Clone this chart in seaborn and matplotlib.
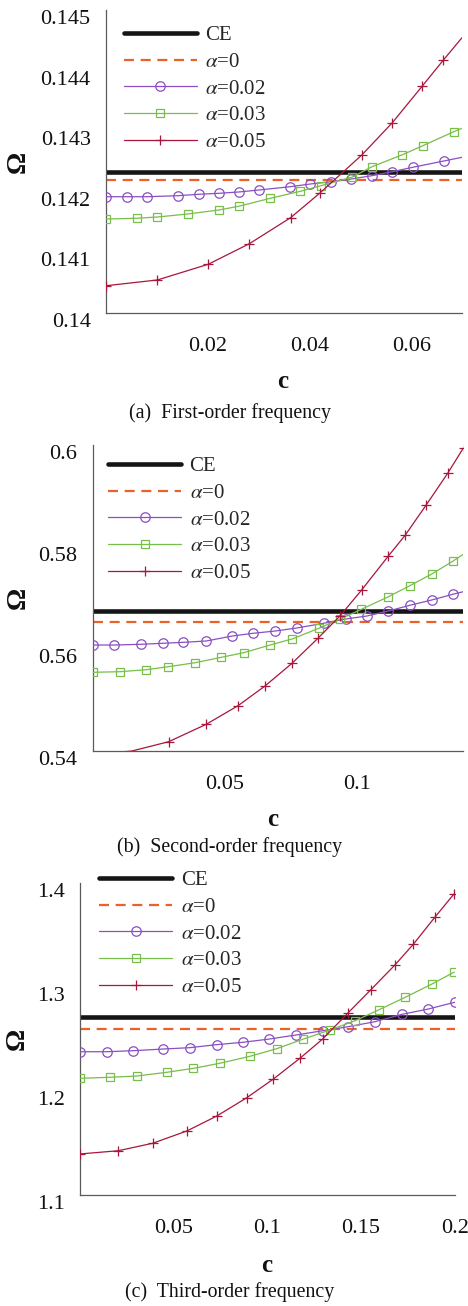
import matplotlib
matplotlib.use('Agg')
import matplotlib.pyplot as plt
import matplotlib.transforms as mtransforms
import numpy as np
import seaborn as sns

# ---------------- data ----------------
series_labels = ['CE', r'$\alpha$=0', r'$\alpha$=0.02', r'$\alpha$=0.03', r'$\alpha$=0.05']
captions = ['(a)  First-order frequency', '(b)  Second-order frequency', '(c)  Third-order frequency']

# Panel (a): first-order frequency
a_ce = 0.142327
a_alpha0 = 0.142190
a_c002 = [0, 0.0041, 0.0081, 0.0142, 0.0182, 0.0222, 0.0261, 0.0301, 0.0362, 0.0402,
          0.0443, 0.0482, 0.0523, 0.0563, 0.0603, 0.0664, 0.0700]
a_w002 = [0.141919, 0.141919, 0.141919, 0.141936, 0.141959, 0.141975, 0.141997, 0.142030,
          0.142084, 0.142129, 0.142167, 0.142211, 0.142266, 0.142332, 0.142404, 0.142508, 0.142569]
a_c003 = [0, 0.0060, 0.0101, 0.0161, 0.0222, 0.0261, 0.0323, 0.0382, 0.0423, 0.0483,
          0.0523, 0.0583, 0.0623, 0.0684, 0.0700]
a_w003 = [0.141551, 0.141563, 0.141584, 0.141634, 0.141700, 0.141761, 0.141893, 0.142008,
          0.142101, 0.142239, 0.142414, 0.142612, 0.142761, 0.142992, 0.143048]
a_c005 = [0, 0.0101, 0.0201, 0.0282, 0.0363, 0.0420, 0.0503, 0.0563, 0.0622, 0.0663, 0.0700]
a_w005 = [0.140450, 0.140545, 0.140804, 0.141144, 0.141573, 0.141975, 0.142607, 0.143140,
          0.143746, 0.144170, 0.144543]
a_xticks = [0.02, 0.04, 0.06]
a_xticklabels = ['0.02', '0.04', '0.06']
a_yticks = [0.140, 0.141, 0.142, 0.143, 0.144, 0.145]
a_yticklabels = ['0.14', '0.141', '0.142', '0.143', '0.144', '0.145']

# Panel (b): second-order frequency
b_ce = 0.56745
b_alpha0 = 0.56529
b_c002 = [0, 0.0081, 0.0181, 0.0264, 0.0343, 0.0429, 0.0528, 0.0606, 0.0690, 0.0771,
          0.0872, 0.0955, 0.1036, 0.1117, 0.1198, 0.1281, 0.1360, 0.1400]
b_w002 = [0.56078, 0.56078, 0.56092, 0.56112, 0.56131, 0.56157, 0.56255, 0.56308, 0.56353,
          0.56412, 0.56504, 0.56588, 0.56647, 0.56745, 0.56857, 0.56961, 0.57073, 0.57124]
b_c003 = [0, 0.0104, 0.0202, 0.0286, 0.0387, 0.0486, 0.0570, 0.0670, 0.0753, 0.0854,
          0.0935, 0.1015, 0.1117, 0.1198, 0.1281, 0.1360, 0.1400]
b_w003 = [0.55543, 0.55555, 0.55594, 0.55653, 0.55731, 0.55837, 0.55927, 0.56078, 0.56196,
          0.56406, 0.56588, 0.56778, 0.57025, 0.57241, 0.57471, 0.57720, 0.57857]
b_c005 = [0, 0.0148, 0.0287, 0.0429, 0.0549, 0.0651, 0.0753, 0.0852, 0.0935, 0.1016,
          0.1117, 0.1181, 0.1259, 0.1341, 0.1401]
b_w005 = [0.5393, 0.5400, 0.54182, 0.54524, 0.54888, 0.55275, 0.55720, 0.56216, 0.56653,
          0.57157, 0.57824, 0.58235, 0.58818, 0.59445, 0.59947]
b_xticks = [0.05, 0.1]
b_xticklabels = ['0.05', '0.1']
b_yticks = [0.54, 0.56, 0.58, 0.60]
b_yticklabels = ['0.54', '0.56', '0.58', '0.6']

# Panel (c): third-order frequency
c_ce = 1.2710
c_alpha0 = 1.2598
c_c002 = [0, 0.0142, 0.0284, 0.0444, 0.0587, 0.0729, 0.0871, 0.1010, 0.1153, 0.1295,
          0.1432, 0.1574, 0.1719, 0.1859, 0.2000]
c_w002 = [1.2379, 1.2379, 1.2389, 1.2405, 1.2418, 1.2447, 1.2470, 1.2501, 1.2540, 1.2581,
          1.2620, 1.2668, 1.2739, 1.2790, 1.2855]
c_c003 = [0, 0.0160, 0.0302, 0.0463, 0.0605, 0.0747, 0.0907, 0.1050, 0.1192, 0.1334,
          0.1469, 0.1594, 0.1736, 0.1879, 0.1998]
c_w003 = [1.2123, 1.2133, 1.2145, 1.2181, 1.2219, 1.2268, 1.2335, 1.2408, 1.2501, 1.2588,
          1.2678, 1.2781, 1.2903, 1.3031, 1.3146]
c_c005 = [0, 0.0204, 0.0388, 0.0570, 0.0730, 0.0890, 0.1032, 0.1174, 0.1295, 0.1432,
          0.1551, 0.1681, 0.1779, 0.1894, 0.1996]
c_w005 = [1.1395, 1.1426, 1.1498, 1.1616, 1.1760, 1.1936, 1.2116, 1.2316, 1.2501, 1.2755,
          1.2973, 1.3214, 1.3413, 1.3673, 1.3897]
c_xticks = [0.05, 0.10, 0.15, 0.20]
c_xticklabels = ['0.05', '0.1', '0.15', '0.2']
c_yticks = [1.1, 1.2, 1.3, 1.4]
c_yticklabels = ['1.1', '1.2', '1.3', '1.4']

# ---------------- style ----------------
sns.set_style('white')
plt.rcParams['font.family'] = ['Liberation Serif', 'DejaVu Serif']
plt.rcParams['mathtext.fontset'] = 'stix'

COLORS = ['#151515', '#E8622A', '#8A4FC2', '#78BE4A', '#A8163C']
AXCOL = '#5a5a5a'

panels = [
    dict(ce=a_ce, a0=a_alpha0,
         s=[(a_c002, a_w002, list(range(len(a_c002) - 1))),
            (a_c003, a_w003, list(range(len(a_c003) - 1))),
            (a_c005, a_w005, list(range(len(a_c005) - 1)))],
         xlim=(0, 0.07), ylim=(0.14, 0.145),
         xt=a_xticks, xtl=a_xticklabels, yt=a_yticks, ytl=a_yticklabels,
         rect_px=(106, 10, 462, 313), leg=(0.050, 0.948),
         clab=(283, 381.7), omega_x=18, cap_y=413),
    dict(ce=b_ce, a0=b_alpha0,
         s=[(b_c002, b_w002, list(range(len(b_c002) - 1))),
            (b_c003, b_w003, list(range(len(b_c003) - 1))),
            (b_c005, b_w005, list(range(2, len(b_c005))))],
         xlim=(0, 0.14), ylim=(0.54, 0.60),
         xt=b_xticks, xtl=b_xticklabels, yt=b_yticks, ytl=b_yticklabels,
         rect_px=(92.7, 445, 463.3, 751), leg=(0.042, 0.962),
         clab=(273, 820), omega_x=18, cap_y=846.7),
    dict(ce=c_ce, a0=c_alpha0,
         s=[(c_c002, c_w002, list(range(len(c_c002)))),
            (c_c003, c_w003, list(range(len(c_c003)))),
            (c_c005, c_w005, list(range(len(c_c005))))],
         xlim=(0, 0.2), ylim=(1.1, 1.4),
         xt=c_xticks, xtl=c_xticklabels, yt=c_yticks, ytl=c_yticklabels,
         rect_px=(80, 883.3, 454.7, 1195), leg=(0.052, 1.040),
         clab=(266.7, 1265), omega_x=17, cap_y=1291.7),
]

W, H = 468, 1306
fig = plt.figure(figsize=(W / 100, H / 100), dpi=100)

markers = [dict(marker='o', markersize=6.8),
           dict(marker='s', markersize=5.4),
           dict(marker='+', markersize=7.2)]

for p in panels:
    l, t, r, b = p['rect_px']
    rect = [l / W, 1 - b / H, (r - l) / W, (b - t) / H]
    ax = fig.add_axes(rect)
    ax.axhline(p['ce'], color=COLORS[0], lw=3.3, label=series_labels[0], zorder=2)
    ax.axhline(p['a0'], color=COLORS[1], lw=1.6, ls=(0, (4.5, 3.0)), label=series_labels[1], zorder=2)
    for k, (xs, ys, mk) in enumerate(p['s']):
        col = COLORS[k + 2]
        sns.lineplot(x=xs, y=ys, ax=ax, color=col, lw=0.9, estimator=None,
                     markerfacecolor='none', markeredgecolor=col, markeredgewidth=0.9,
                     markevery=mk, label=series_labels[k + 2], zorder=3, **markers[k])
    ax.set_xlim(*p['xlim'])
    ax.set_ylim(*p['ylim'])
    ax.set_xticks(p['xt'])
    ax.set_xticklabels(p['xtl'])
    ax.set_yticks(p['yt'])
    ax.set_yticklabels(p['ytl'])
    for side in ['top', 'right']:
        ax.spines[side].set_visible(False)
    for side in ['left', 'bottom']:
        ax.spines[side].set_color(AXCOL)
        ax.spines[side].set_linewidth(0.9)
    ax.tick_params(axis='both', direction='in', length=4, width=0.8, color=AXCOL,
                   labelsize=16, labelcolor='#111111')
    ax.tick_params(axis='x', pad=17)
    ax.tick_params(axis='y', pad=11)
    off = mtransforms.ScaledTranslation(0, -7 / 100, fig.dpi_scale_trans)
    for lab in ax.get_yticklabels():
        lab.set_transform(lab.get_transform() + off)

    ax.set_xlabel('c', fontsize=18, fontweight='bold', color='#111111')
    ax.xaxis.label.set_va('center')
    ax.xaxis.set_label_coords((p['clab'][0] - l) / (r - l), -(p['clab'][1] - b) / (b - t))
    ax.set_ylabel('Ω', fontsize=20, fontweight='bold', color='#111111')
    ax.yaxis.label.set_va('center')
    ax.yaxis.set_label_coords((p['omega_x'] - l) / (r - l), 0.5)

    ax.legend(loc='upper left', bbox_to_anchor=p['leg'], frameon=False, fontsize=15,
              handlelength=3.5, handletextpad=0.4, labelspacing=0.34,
              borderpad=0, borderaxespad=0)
    ax.grid(False)

for cap, p in zip(captions, panels):
    fig.text(230 / W, 1 - p['cap_y'] / H, cap, ha='center', va='center', fontsize=14.3,
             color='#111111')

fig.savefig('out.png', dpi=100)
